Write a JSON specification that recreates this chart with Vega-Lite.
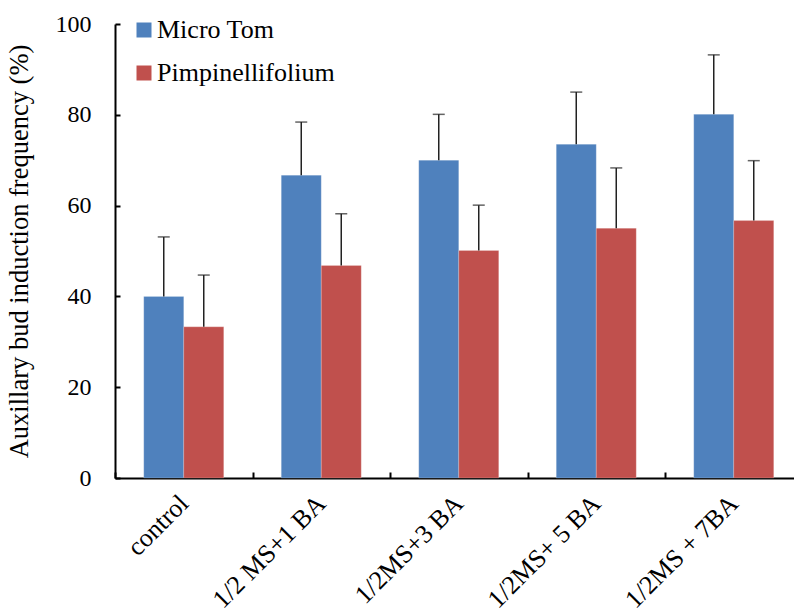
{
  "$schema": "https://vega.github.io/schema/vega-lite/v6.json",
  "autosize": "none",
  "padding": {"left": 115, "top": 24, "right": 0, "bottom": 140},
  "width": 687.5,
  "height": 454,
  "background": "white",
  "config": {
    "font": "Liberation Serif",
    "view": {"stroke": null},
    "axis": {"labelFont": "Liberation Serif", "titleFont": "Liberation Serif", "labelColor": "#000", "titleColor": "#000", "domainColor": "#000", "tickColor": "#000", "grid": false},
    "legend": {"labelFont": "Liberation Serif"}
  },
  "data": {
    "values": [
      {"treatment": "control", "variety": "Micro Tom", "value": 40.0, "upper": 53.1},
      {"treatment": "control", "variety": "Pimpinellifolium", "value": 33.3, "upper": 44.7},
      {"treatment": "1/2 MS+1 BA", "variety": "Micro Tom", "value": 66.7, "upper": 78.4},
      {"treatment": "1/2 MS+1 BA", "variety": "Pimpinellifolium", "value": 46.8, "upper": 58.2},
      {"treatment": "1/2MS+3 BA", "variety": "Micro Tom", "value": 70.0, "upper": 80.1},
      {"treatment": "1/2MS+3 BA", "variety": "Pimpinellifolium", "value": 50.1, "upper": 60.1},
      {"treatment": "1/2MS+ 5 BA", "variety": "Micro Tom", "value": 73.5, "upper": 85.0},
      {"treatment": "1/2MS+ 5 BA", "variety": "Pimpinellifolium", "value": 55.0, "upper": 68.3},
      {"treatment": "1/2MS + 7BA", "variety": "Micro Tom", "value": 80.1, "upper": 93.2},
      {"treatment": "1/2MS + 7BA", "variety": "Pimpinellifolium", "value": 56.7, "upper": 69.9}
    ]
  },
  "encoding": {
    "x": {
      "field": "treatment", "type": "nominal", "sort": null,
      "scale": {"paddingInner": 0, "paddingOuter": 0},
      "axis": {"title": null, "labelAngle": -45, "labelFontSize": 26, "tickBand": "extent", "tickSize": -6, "tickWidth": 2, "domainWidth": 2, "labelPadding": 27, "labelOffset": 0, "labelAlign": "right", "labelBaseline": "middle", "labelLimit": 0}
    },
    "xOffset": {"field": "variety", "type": "nominal", "scale": {"paddingInner": 0, "paddingOuter": 0.71875}}
  },
  "layer": [
    {
      "mark": {"type": "bar", "stroke": "white", "strokeOpacity": 0.4, "strokeWidth": 0.5},
      "encoding": {
        "y": {
          "field": "value", "type": "quantitative",
          "scale": {"domain": [0, 100], "nice": false},
          "axis": {"title": "Auxillary bud induction frequency (%)", "titleFontSize": 26.5, "titleFontWeight": "normal", "titlePadding": 22, "labelFontSize": 24, "values": [0, 20, 40, 60, 80, 100], "tickSize": -5, "tickWidth": 2, "domainWidth": 2, "labelPadding": 29}
        },
        "color": {
          "field": "variety", "type": "nominal",
          "scale": {"domain": ["Micro Tom", "Pimpinellifolium"], "range": ["#4F81BD", "#C0504D"]},
          "legend": {"title": null, "orient": "none", "legendX": 16, "legendY": -7, "symbolType": "square", "symbolSize": 225, "symbolStrokeWidth": 0, "labelFontSize": 26, "labelFont": "Liberation Serif", "labelColor": "#000", "rowPadding": 17, "labelOffset": 0, "labelLimit": 0}
        }
      }
    },
    {
      "mark": {"type": "rule", "color": "#222", "strokeWidth": 1.5},
      "encoding": {"y": {"field": "value", "type": "quantitative"}, "y2": {"field": "upper"}}
    },
    {
      "mark": {"type": "tick", "color": "#222", "thickness": 1.5, "size": 12, "orient": "horizontal"},
      "encoding": {"y": {"field": "upper", "type": "quantitative"}}
    }
  ]
}
